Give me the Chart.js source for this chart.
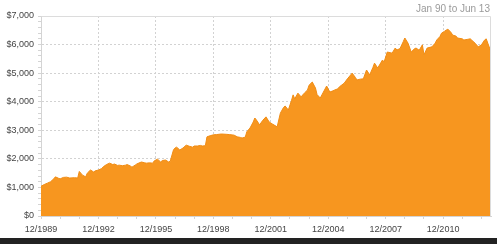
<!DOCTYPE html>
<html>
<head>
<meta charset="utf-8">
<script src="https://cdn.jsdelivr.net/npm/chart.js@4/dist/chart.umd.min.js"></script>
<style>
  html, body { margin: 0; padding: 0; background: #fff; }
  #wrap { position: relative; width: 497px; height: 244px; overflow: hidden; }
  #c { position: absolute; left: 0; top: 0; }
  #range { position: absolute; right: 7px; top: 3px; font: 10px "Liberation Sans", Arial, sans-serif; color: #9a9a9a; }
  #bar { position: absolute; left: 0; top: 238px; width: 497px; height: 6px; background: #222; }
</style>
</head>
<body>
<div id="wrap">
  <canvas id="c" width="497" height="238"></canvas>
  <div id="range">Jan 90 to Jun 13</div>
  <div id="bar"></div>
</div>
<script>
// months since 12/1989
const months = [0,2,4,6,8,9,11,12,14,16,18,21,23,24,26,28,29,31,33,34,36,38,39,41,43,45,46,48,49,51,53,54,56,57,59,60,62,63,65,66,68,70,71,73,75,76,78,80,81,83,84,85,87,89,91,93,95,96,98,100,101,103,104,106,108,110,113,116,118,121,123,125,126,128,129,131,133,134,135,137,139,141,143,145,148,150,152,153,155,157,158,159,161,163,165,167,168,170,172,173,175,177,179,181,183,184,186,187,190,192,195,197,198,200,202,204,206,208,209,211,214,215,217,220,222,223,225,227,228,230,232,234,235,237,239,240,242,245,247,248,250,251,253,254,255,257,258,260,261,264,265,267,269,270,272,274,276,278,279,280,282];
const values = [1040,1100,1150,1200,1300,1370,1320,1300,1350,1360,1330,1340,1330,1560,1430,1370,1500,1610,1540,1580,1610,1660,1720,1800,1850,1800,1820,1770,1780,1760,1780,1800,1750,1710,1780,1820,1870,1890,1860,1850,1860,1850,1930,1990,1890,1940,1960,1890,1920,2310,2380,2410,2310,2380,2480,2440,2410,2450,2450,2470,2450,2460,2770,2810,2840,2850,2870,2860,2850,2830,2770,2750,2730,2760,2950,3080,3290,3430,3360,3190,3350,3470,3290,3220,3120,3600,3800,3850,3710,4050,4240,4100,4300,4170,4300,4410,4580,4690,4480,4250,4130,4340,4550,4340,4380,4410,4450,4520,4650,4800,5000,4850,4760,4790,4800,5110,4940,5200,5350,5180,5460,5390,5740,5700,5880,5810,5860,6100,6230,6050,5740,5850,5880,5800,5990,5640,5880,5920,6050,6160,6280,6400,6470,6510,6540,6420,6330,6300,6230,6200,6160,6180,6200,6150,6050,5920,5990,6160,6200,6050,5740];
const xTickLabels = ["12/1989","12/1992","12/1995","12/1998","12/2001","12/2004","12/2007","12/2010"];
const yTickValues = [0,1000,2000,3000,4000,5000,6000,7000];

const points = months.map((m, i) => ({ x: m, y: values[i] }));
const FONT = { family: '"Liberation Sans", Arial, sans-serif', size: 9 };

const frame = {
  id: 'frame',
  afterDatasetsDraw(chart) {
    const { ctx, chartArea: a } = chart;
    ctx.save();
    ctx.strokeStyle = '#dcdcdc';
    ctx.lineWidth = 1;
    ctx.beginPath();
    ctx.moveTo(a.left + 0.5, a.top + 0.5);
    ctx.lineTo(a.right - 0.5, a.top + 0.5);
    ctx.lineTo(a.right - 0.5, a.bottom);
    ctx.stroke();
    ctx.restore();
  }
};

new Chart(document.getElementById('c'), {
  type: 'line',
  data: {
    datasets: [{
      data: points,
      fill: 'origin',
      backgroundColor: '#F7961F',
      borderColor: '#F08C14',
      borderWidth: 1,
      pointRadius: 0,
      tension: 0
    }]
  },
  options: {
    responsive: false,
    animation: false,
    layout: { padding: { left: 0, right: 6, top: 16, bottom: 0 } },
    plugins: { legend: { display: false }, tooltip: { enabled: false } },
    scales: {
      x: {
        type: 'linear',
        min: 0, max: 282,
        afterFit(s) { s.height = 22; },
        afterBuildTicks(s) {
          const t = [];
          for (let m = 0; m <= 282; m += 12) t.push({ value: m });
          s.ticks = t;
        },
        ticks: {
          autoSkip: false, maxRotation: 0, padding: 5, color: '#444', font: FONT,
          callback(v) { return v % 36 === 0 ? xTickLabels[v / 36] : ''; }
        },
        grid: {
          color: (c) => (c.tick && c.tick.value % 36 === 0 && c.tick.value > 0) ? '#d2d2d2' : 'rgba(0,0,0,0)',
          tickColor: '#d4d4d4',
          tickLength: 3
        },
        border: { display: true, color: '#d4d4d4', dash: [2, 2] }
      },
      y: {
        min: 0, max: 7000,
        afterFit(s) { s.width = 41; },
        afterBuildTicks(s) {
          const t = [];
          for (let v = 0; v <= 7000; v += 200) t.push({ value: v });
          s.ticks = t;
        },
        ticks: {
          autoSkip: false, padding: 4, color: '#444', font: FONT,
          callback(v) { return yTickValues.includes(v) ? '$' + v.toLocaleString('en-US') : ''; }
        },
        grid: {
          color: (c) => (c.tick && c.tick.value % 1000 === 0 && c.tick.value > 0 && c.tick.value < 7000) ? '#d2d2d2' : 'rgba(0,0,0,0)',
          tickColor: '#d4d4d4',
          tickLength: 3
        },
        border: { display: true, color: '#d4d4d4', dash: [2, 2] }
      }
    }
  },
  plugins: [frame]
});
</script>
</body>
</html>
